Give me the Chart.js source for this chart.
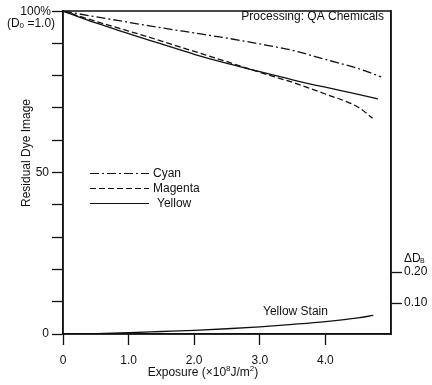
<!DOCTYPE html>
<html>
<head>
<meta charset="utf-8" />
<script src="https://cdn.jsdelivr.net/npm/chart.js"></script>
<style>
  html, body { margin: 0; padding: 0; background: #fff; }
  #wrap { width: 432px; height: 385px; }
</style>
</head>
<body>
<div id="wrap"><canvas id="dyeChart" width="432" height="385"></canvas></div>
<script>
// exposure in 10^8 J/m^2
const cyanX = [0, 0.5, 1, 1.5, 2, 2.5, 3, 3.5, 4, 4.5, 4.85];
const cyanY = [100, 98.2, 96.5, 94.8, 93.2, 91.6, 89.8, 87.8, 85.0, 82.2, 79.6];
const magentaX = [0, 0.5, 1, 1.5, 2, 2.5, 3, 3.5, 4, 4.5, 4.72];
const magentaY = [100, 96.8, 93.8, 90.7, 87.5, 84.3, 81.0, 77.9, 74.3, 70.2, 66.8];
const yellowX = [0, 0.5, 1, 1.5, 2, 2.5, 3, 3.5, 4, 4.5, 4.8];
const yellowY = [100, 96.3, 93.0, 89.8, 86.6, 83.8, 81.2, 78.7, 76.4, 74.2, 72.8];
const stainX = [0, 0.5, 1, 1.5, 2, 2.5, 3, 3.5, 4, 4.5, 4.73];
const stainY = [0, 0.001, 0.004, 0.008, 0.012, 0.017, 0.023, 0.031, 0.040, 0.052, 0.060];

const xTicks = [0, 1, 2, 3, 4];
const leftTicks = [0, 10, 20, 30, 40, 50, 60, 70, 80, 90, 100];
const rightTicks = [0.1, 0.2];

const FONT = "'Liberation Sans', Arial, sans-serif";
const INK = "#111";

const pts = (xs, ys) => xs.map((x, i) => ({ x, y: ys[i] }));

const legendItems = [
  { label: "Cyan", dash: [9, 3, 2, 3] },
  { label: "Magenta", dash: [6, 3] },
  { label: "Yellow", dash: [] },
];

// draws pieces of text left to right, small ones raised or lowered
function drawRuns(ctx, runs, cx, y) {
  const widths = runs.map((r) => { ctx.font = r.size + "px " + FONT; return ctx.measureText(r.t).width; });
  let x = cx - widths.reduce((a, b) => a + b, 0) / 2;
  runs.forEach((r, i) => {
    ctx.font = r.size + "px " + FONT;
    ctx.fillText(r.t, x, y + (r.dy || 0));
    x += widths[i];
  });
}

// box, legend, free labels
const decor = {
  id: "decor",
  afterDraw(chart) {
    const { ctx, chartArea: a, scales } = chart;
    ctx.save();
    ctx.strokeStyle = INK;
    ctx.lineWidth = 1.5;
    ctx.strokeRect(a.left, a.top, a.right - a.left, a.bottom - a.top);

    ctx.fillStyle = INK;
    ctx.font = "12px " + FONT;
    ctx.textBaseline = "middle";

    // 100% label
    const y100 = scales.y.getPixelForValue(100);
    ctx.textAlign = "right";
    ctx.fillText("100%", 51, y100 + 1);
    ctx.textAlign = "left";
    drawRuns(ctx, [
      { t: "(D", size: 12 },
      { t: "0", size: 8, dy: 2 },
      { t: " =1.0)", size: 12 },
    ], 31, y100 + 13);

    // y title
    ctx.save();
    ctx.translate(27, 153);
    ctx.rotate(-Math.PI / 2);
    ctx.textAlign = "center";
    ctx.font = "12px " + FONT;
    ctx.fillText("Residual Dye Image", 0, 0);
    ctx.restore();

    // x title
    ctx.textAlign = "left";
    drawRuns(ctx, [
      { t: "Exposure (\u00d710", size: 12 },
      { t: "8", size: 8, dy: -4 },
      { t: "J/m", size: 12 },
      { t: "2", size: 8, dy: -4 },
      { t: ")", size: 12 },
    ], 203, 373);

    // right axis unit
    const y020 = scales.y2.getPixelForValue(0.2);
    ctx.font = "12px " + FONT;
    ctx.fillText("\u0394D", 404, y020 - 13);
    ctx.font = "7px " + FONT;
    ctx.fillText("B", 420, y020 - 11);
    ctx.font = "12px " + FONT;

    ctx.textAlign = "right";
    ctx.fillText("Processing: QA Chemicals", 384, 17);
    ctx.textAlign = "left";
    ctx.fillText("Yellow Stain", 263, 312);

    // legend
    [173.5, 188.5, 203.5].forEach((y, i) => {
      const it = legendItems[i];
      ctx.setLineDash(it.dash);
      ctx.lineWidth = 1.2;
      ctx.beginPath();
      ctx.moveTo(90, y);
      ctx.lineTo(149, y);
      ctx.stroke();
      ctx.setLineDash([]);
      ctx.fillText(it.label, i === 2 ? 157 : 153, y);
    });
    ctx.restore();
  },
};

const lineStyle = {
  borderColor: INK,
  borderWidth: 1.3,
  pointRadius: 0,
  fill: false,
  cubicInterpolationMode: "monotone",
};

new Chart(document.getElementById("dyeChart"), {
  type: "line",
  data: {
    datasets: [
      { ...lineStyle, label: "Cyan", data: pts(cyanX, cyanY), borderDash: [9, 3, 2, 3], yAxisID: "y" },
      { ...lineStyle, label: "Magenta", data: pts(magentaX, magentaY), borderDash: [6, 3], yAxisID: "y" },
      { ...lineStyle, label: "Yellow", data: pts(yellowX, yellowY), yAxisID: "y" },
      { ...lineStyle, label: "Yellow Stain", data: pts(stainX, stainY), yAxisID: "y2" },
    ],
  },
  plugins: [decor],
  options: {
    responsive: false,
    animation: false,
    layout: { padding: { top: 11, left: 0, right: 0, bottom: 0 } },
    plugins: { legend: { display: false }, tooltip: { enabled: false } },
    scales: {
      x: {
        type: "linear",
        min: 0,
        max: 5,
        afterBuildTicks: (s) => { s.ticks = xTicks.map((v) => ({ value: v })); },
        afterFit: (s) => { s.height = 51; },
        ticks: {
          color: INK,
          font: { size: 12, family: FONT },
          padding: 8,
          maxRotation: 0,
          callback: (v) => (v === 0 ? "0" : v.toFixed(1)),
        },
        grid: { drawOnChartArea: false, tickLength: 11, tickColor: INK, tickWidth: 1.3 },
        border: { color: INK, width: 1.5 },
      },
      y: {
        position: "left",
        min: 0,
        max: 100,
        afterBuildTicks: (s) => { s.ticks = leftTicks.map((v) => ({ value: v })); },
        afterFit: (s) => { s.width = 63; },
        ticks: {
          color: INK,
          font: { size: 12, family: FONT },
          padding: 3,
          callback: (v) => (v === 0 || v === 50 ? String(v) : ""),
        },
        grid: { drawOnChartArea: false, tickLength: 11, tickColor: INK, tickWidth: 1.3 },
        border: { color: INK, width: 1.5 },
      },
      y2: {
        position: "right",
        min: 0,
        max: 1.042,
        afterBuildTicks: (s) => { s.ticks = rightTicks.map((v) => ({ value: v })); },
        afterFit: (s) => { s.width = 41; },
        ticks: {
          color: INK,
          font: { size: 12, family: FONT },
          padding: 2,
          callback: (v) => v.toFixed(2),
        },
        grid: { drawOnChartArea: false, tickLength: 11, tickColor: INK, tickWidth: 1.3 },
        border: { color: INK, width: 1.5 },
      },
    },
  },
});
</script>
</body>
</html>
